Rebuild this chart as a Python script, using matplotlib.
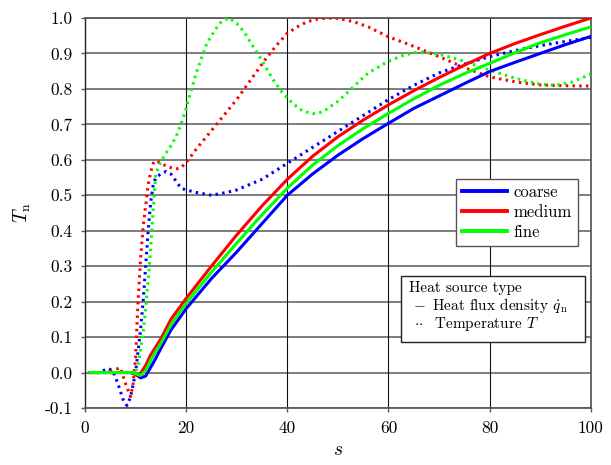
import matplotlib
matplotlib.use("Agg")
import matplotlib.pyplot as plt
from matplotlib.lines import Line2D
from matplotlib.patches import Rectangle

plt.rcParams["font.family"] = ["cmr10", "DejaVu Serif"]
plt.rcParams["mathtext.fontset"] = "cm"
plt.rcParams["axes.unicode_minus"] = False
plt.rcParams["axes.formatter.use_mathtext"] = True

# ── data ─────────────────────────────────────────────────────────────────
# heat flux density source (solid)
s_flux_coarse = [1, 5, 9, 10, 11, 12, 13, 14, 15, 17, 20, 25, 30, 35, 40,
                 45, 50, 55, 60, 65, 70, 75, 80, 85, 90, 95, 100]
T_flux_coarse = [0, 0, 0, -0.005, -0.015, -0.01, 0.015, 0.04, 0.068, 0.12,
                 0.18, 0.265, 0.34, 0.42, 0.50, 0.56, 0.613, 0.66, 0.703,
                 0.745, 0.78, 0.815, 0.849, 0.875, 0.90, 0.925, 0.948]

s_flux_medium = [1, 5, 9, 10, 10.5, 11, 12, 13, 14, 15, 17, 20, 25, 30, 35,
                 40, 45, 50, 55, 60, 65, 70, 75, 80, 85, 90, 95, 100]
T_flux_medium = [0, 0, 0, -0.005, -0.008, -0.002, 0.02, 0.05, 0.072, 0.095,
                 0.15, 0.209, 0.30, 0.388, 0.47, 0.545, 0.61, 0.665, 0.712,
                 0.755, 0.795, 0.832, 0.867, 0.90, 0.928, 0.953, 0.977, 1.0]

s_flux_fine = [1, 5, 9, 10, 10.5, 11, 12, 13, 14, 15, 17, 20, 25, 30, 35,
               40, 45, 50, 55, 60, 65, 70, 75, 80, 85, 90, 95, 100]
T_flux_fine = [0, 0, 0, -0.003, -0.006, -0.008, 0.005, 0.035, 0.06, 0.082,
               0.135, 0.195, 0.283, 0.365, 0.445, 0.52, 0.585, 0.64, 0.688,
               0.731, 0.772, 0.81, 0.843, 0.872, 0.902, 0.93, 0.953, 0.975]

# temperature source (dotted)
s_temp_coarse = [1, 3, 4.5, 5.5, 6.5, 7.5, 8.3, 9, 10, 10.5, 11, 11.5, 12,
                 12.5, 13, 13.5, 14, 15, 16, 17, 18, 19, 20, 22, 25, 28, 30,
                 35, 40, 45, 50, 55, 60, 65, 70, 75, 80, 85, 90, 95, 100]
T_temp_coarse = [0, 0, 0.012, 0.005, -0.03, -0.075, -0.093, -0.07, 0.0,
                 0.06, 0.12, 0.2, 0.3, 0.4, 0.48, 0.53, 0.55, 0.56, 0.567,
                 0.56, 0.54, 0.52, 0.515, 0.508, 0.50, 0.508, 0.515, 0.545,
                 0.59, 0.635, 0.68, 0.725, 0.77, 0.81, 0.845, 0.87, 0.891,
                 0.908, 0.922, 0.934, 0.945]

s_temp_medium = [1, 4, 6, 7, 8, 9, 9.5, 10, 10.5, 11, 11.5, 12, 12.5, 13,
                 13.5, 14, 15, 16, 17, 18, 19, 20, 22, 24, 26, 28, 30, 32,
                 34, 36, 38, 40, 42, 44, 46, 48, 50, 53, 56, 60, 65, 70, 75,
                 80, 85, 90, 95, 100]
T_temp_medium = [0, 0, 0.008, 0.014, -0.03, -0.068, -0.035, 0.04, 0.2, 0.32,
                 0.41, 0.47, 0.53, 0.565, 0.59, 0.598, 0.59, 0.583, 0.578,
                 0.574, 0.578, 0.592, 0.63, 0.665, 0.70, 0.735, 0.77, 0.81,
                 0.85, 0.89, 0.925, 0.957, 0.975, 0.99, 0.997, 1.0, 0.999,
                 0.99, 0.975, 0.947, 0.92, 0.891, 0.86, 0.834, 0.82, 0.811,
                 0.809, 0.808]

s_temp_fine = [1, 5, 9, 10, 10.5, 11, 11.5, 12, 12.5, 13, 13.5, 14, 15, 16,
               17, 18, 19, 20, 21, 22, 23, 24, 25, 26, 27, 28.5, 30, 31.5,
               33, 35, 37, 39, 41, 43, 45, 47, 50, 53, 56, 60, 63, 66, 70,
               75, 80, 85, 90, 93, 96, 100]
T_temp_fine = [0, 0, 0, 0.0, 0.02, 0.065, 0.11, 0.18, 0.26, 0.35, 0.46, 0.56,
               0.595, 0.618, 0.64, 0.665, 0.70, 0.745, 0.795, 0.845, 0.885,
               0.925, 0.95, 0.972, 0.99, 1.0, 0.985, 0.96, 0.925, 0.88, 0.83,
               0.79, 0.76, 0.738, 0.73, 0.735, 0.765, 0.805, 0.845, 0.878,
               0.895, 0.905, 0.898, 0.878, 0.853, 0.83, 0.813, 0.81, 0.818,
               0.842]

mesh_names = ["coarse", "medium", "fine"]
mesh_colors = ["#0000ff", "#ff0000", "#00ff00"]
flux_series = [(s_flux_coarse, T_flux_coarse), (s_flux_medium, T_flux_medium),
               (s_flux_fine, T_flux_fine)]
temp_series = [(s_temp_coarse, T_temp_coarse), (s_temp_medium, T_temp_medium),
               (s_temp_fine, T_temp_fine)]

x_ticks = [0, 20, 40, 60, 80, 100]
y_ticks = [-0.1, 0.0, 0.1, 0.2, 0.3, 0.4, 0.5, 0.6, 0.7, 0.8, 0.9, 1.0]

# ── figure ───────────────────────────────────────────────────────────────
fig = plt.figure(figsize=(6.11, 4.65), dpi=100)
ax = fig.add_axes([0.139, 0.1226, 0.828, 0.8387])

ax.set_xlim(0, 100)
ax.set_ylim(-0.1, 1.0)

# grid: gray horizontals, black verticals
for yv in y_ticks:
    ax.axhline(yv, color="#5a5a5a", lw=1.1, zorder=1)
for xv in x_ticks[1:-1]:
    ax.axvline(xv, color="#111111", lw=0.8, zorder=1)

for (s, T), c in zip(temp_series, mesh_colors):
    ax.plot(s, T, color=c, lw=2.2, ls=(0, (0.8, 1.4)), zorder=3)
for (s, T), c in zip(flux_series, mesh_colors):
    ax.plot(s, T, color=c, lw=2.2, ls="-", zorder=4)

ax.set_xticks(x_ticks)
ax.set_xticklabels([str(v) for v in x_ticks])
ax.set_yticks(y_ticks)
ax.set_yticklabels(["%.1f" % v for v in y_ticks])
ax.tick_params(direction="out", length=3, width=1, color="#5a5a5a",
               labelsize=12.5, pad=6)

for side in ["top", "bottom", "right"]:
    ax.spines[side].set_color("#5a5a5a")
    ax.spines[side].set_linewidth(1.3)
ax.spines["left"].set_color("#222222")
ax.spines["left"].set_linewidth(1.0)

ax.set_xlabel("$s$", fontsize=14, labelpad=4)
ax.set_ylabel(r"$T_\mathrm{n}$", fontsize=14, labelpad=8)

# mesh legend
handles = [Line2D([], [], color=c, lw=2.8) for c in mesh_colors]
leg = ax.legend(handles, mesh_names, loc="upper right",
                bbox_to_anchor=(0.974, 0.587), borderaxespad=0,
                fontsize=12, handlelength=2.7, handletextpad=0.4,
                labelspacing=0.28, borderpad=0.35, fancybox=False,
                framealpha=1, edgecolor="#555555")
leg.get_frame().set_linewidth(1.0)
leg.set_zorder(10)

# heat source type box
ax.add_patch(Rectangle((0.6245, 0.169), 0.3635, 0.169, transform=ax.transAxes,
                       fc="white", ec="#222222", lw=1.0, zorder=10))
box_kw = dict(transform=ax.transAxes, fontsize=11, va="baseline", ha="left",
              zorder=11)
ax.text(0.640, 0.297, "Heat source type", **box_kw)
ax.text(0.648, 0.251, "$-\\,$ Heat flux density $\\dot{q}_\\mathrm{n}$",
        **box_kw)
ax.text(0.650, 0.204, "$\\cdot\\!\\cdot\\;$ Temperature $T$", **box_kw)

fig.savefig("out.png", dpi=100)
